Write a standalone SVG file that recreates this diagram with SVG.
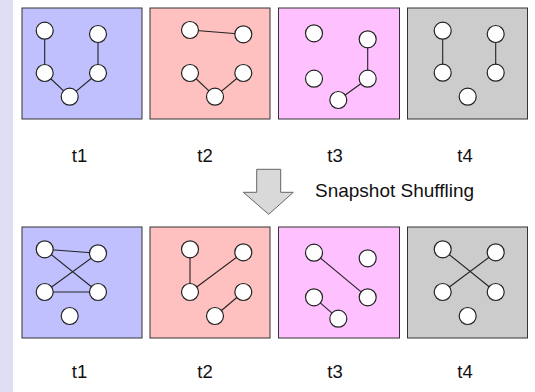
<svg xmlns="http://www.w3.org/2000/svg" width="535" height="392" viewBox="0 0 535 392">
<style>
.panel{stroke:#333;stroke-width:1}
.n{fill:#fff;stroke:#222;stroke-width:1.2}
.e{stroke:#222;stroke-width:1.1;fill:none}
.lbl{font-family:"Liberation Sans",Arial,sans-serif;font-size:18.5px;fill:#111;text-anchor:middle}
</style>
<rect x="0" y="0" width="13" height="392" fill="#dfdff3"/>
<rect x="13" y="0" width="522" height="392" fill="#fff"/>
<g id="panels">
<rect class="panel" x="22" y="8" width="120" height="111" fill="#c0c0ff"/>
<rect class="panel" x="150" y="8" width="120" height="111" fill="#ffc0c0"/>
<rect class="panel" x="278.5" y="8" width="121" height="111" fill="#ffc0ff"/>
<rect class="panel" x="407.5" y="8" width="120" height="111" fill="#cccccc"/>
<rect class="panel" x="22" y="227" width="120" height="111" fill="#c0c0ff"/>
<rect class="panel" x="150" y="227" width="120" height="111" fill="#ffc0c0"/>
<rect class="panel" x="278.5" y="227" width="121" height="111" fill="#ffc0ff"/>
<rect class="panel" x="407.5" y="227" width="120" height="111" fill="#cccccc"/>
</g>
<g id="connectors">
<line class="e" x1="44.7" y1="30.7" x2="44.7" y2="73"/>
<line class="e" x1="44.7" y1="73" x2="69.7" y2="96.7"/>
<line class="e" x1="69.7" y1="96.7" x2="98" y2="73"/>
<line class="e" x1="98" y1="73" x2="98" y2="34"/>
<line class="e" x1="190" y1="30" x2="243.3" y2="34.3"/>
<line class="e" x1="190" y1="73" x2="215" y2="96.7"/>
<line class="e" x1="215" y1="96.7" x2="243.3" y2="73"/>
<line class="e" x1="367.7" y1="39.3" x2="367.7" y2="78.7"/>
<line class="e" x1="367.7" y1="78.7" x2="338.3" y2="100"/>
<line class="e" x1="442.7" y1="30.7" x2="442.7" y2="72.7"/>
<line class="e" x1="495.7" y1="34" x2="495.7" y2="72.7"/>
<line class="e" x1="44.7" y1="249.3" x2="98" y2="253.3"/>
<line class="e" x1="44.7" y1="249.3" x2="98" y2="292"/>
<line class="e" x1="98" y1="253.3" x2="44.7" y2="292"/>
<line class="e" x1="44.7" y1="292" x2="98" y2="292"/>
<line class="e" x1="190" y1="249.3" x2="190" y2="292"/>
<line class="e" x1="190" y1="292" x2="243.3" y2="252.3"/>
<line class="e" x1="243.3" y1="292" x2="215" y2="316"/>
<line class="e" x1="314" y1="252.7" x2="367.7" y2="297.3"/>
<line class="e" x1="314" y1="297.3" x2="338.3" y2="318.7"/>
<line class="e" x1="442.7" y1="249.3" x2="495.7" y2="292"/>
<line class="e" x1="495.7" y1="252.3" x2="442.7" y2="292"/>
</g>
<g id="nodes-t1-top">
<circle class="n" cx="44.7" cy="30.7" r="8.5"/><circle class="n" cx="44.7" cy="73" r="8.5"/><circle class="n" cx="69.7" cy="96.7" r="8.5"/><circle class="n" cx="98" cy="73" r="8.5"/><circle class="n" cx="98" cy="34" r="8.5"/>
</g>
<g id="nodes-t2-top">
<circle class="n" cx="190" cy="30" r="8.5"/><circle class="n" cx="243.3" cy="34.3" r="8.5"/><circle class="n" cx="190" cy="73" r="8.5"/><circle class="n" cx="215" cy="96.7" r="8.5"/><circle class="n" cx="243.3" cy="73" r="8.5"/>
</g>
<g id="nodes-t3-top">
<circle class="n" cx="314" cy="33.3" r="8.5"/><circle class="n" cx="367.7" cy="39.3" r="8.5"/><circle class="n" cx="314" cy="78.7" r="8.5"/><circle class="n" cx="367.7" cy="78.7" r="8.5"/><circle class="n" cx="338.3" cy="100" r="8.5"/>
</g>
<g id="nodes-t4-top">
<circle class="n" cx="442.7" cy="30.7" r="8.5"/><circle class="n" cx="495.7" cy="34" r="8.5"/><circle class="n" cx="442.7" cy="72.7" r="8.5"/><circle class="n" cx="495.7" cy="72.7" r="8.5"/><circle class="n" cx="467.7" cy="96.7" r="8.5"/>
</g>
<g id="nodes-t1-bottom">
<circle class="n" cx="44.7" cy="249.3" r="8.5"/><circle class="n" cx="98" cy="253.3" r="8.5"/><circle class="n" cx="44.7" cy="292" r="8.5"/><circle class="n" cx="98" cy="292" r="8.5"/><circle class="n" cx="69.7" cy="316" r="8.5"/>
</g>
<g id="nodes-t2-bottom">
<circle class="n" cx="190" cy="249.3" r="8.5"/><circle class="n" cx="243.3" cy="252.3" r="8.5"/><circle class="n" cx="190" cy="292" r="8.5"/><circle class="n" cx="243.3" cy="292" r="8.5"/><circle class="n" cx="215" cy="316" r="8.5"/>
</g>
<g id="nodes-t3-bottom">
<circle class="n" cx="314" cy="252.7" r="8.5"/><circle class="n" cx="367.7" cy="258.3" r="8.5"/><circle class="n" cx="314" cy="297.3" r="8.5"/><circle class="n" cx="367.7" cy="297.3" r="8.5"/><circle class="n" cx="338.3" cy="318.7" r="8.5"/>
</g>
<g id="nodes-t4-bottom">
<circle class="n" cx="442.7" cy="249.3" r="8.5"/><circle class="n" cx="495.7" cy="252.3" r="8.5"/><circle class="n" cx="442.7" cy="292" r="8.5"/><circle class="n" cx="495.7" cy="292" r="8.5"/><circle class="n" cx="467.7" cy="316" r="8.5"/>
</g>
<g id="arrow">
<polygon points="256.7,169.3 280.7,169.3 280.7,192.3 293.3,192.3 268.7,214.3 243.3,192.3 256.7,192.3" fill="#d9d9d9" stroke="#666" stroke-width="1"/>
</g>
<g id="labels">
<text class="lbl" x="79.5" y="161.5">t1</text>
<text class="lbl" x="205" y="161.5">t2</text>
<text class="lbl" x="335" y="161.5">t3</text>
<text class="lbl" x="465" y="161.5">t4</text>
<text class="lbl" x="79.5" y="377.5">t1</text>
<text class="lbl" x="205" y="377.5">t2</text>
<text class="lbl" x="335" y="377.5">t3</text>
<text class="lbl" x="465" y="377.5">t4</text>
<text class="lbl" x="315" y="197" style="text-anchor:start;font-size:19px">Snapshot Shuffling</text>
</g>
</svg>
